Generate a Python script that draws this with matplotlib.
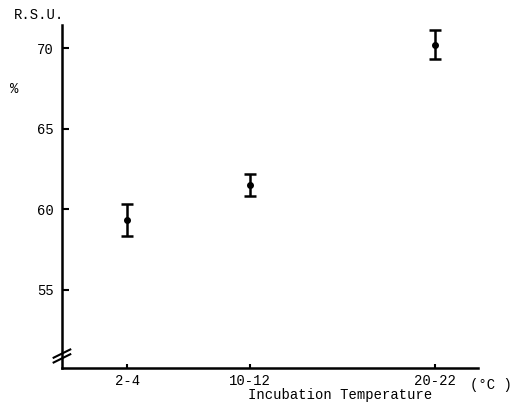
import matplotlib
matplotlib.use("Agg")
import matplotlib.pyplot as plt

categories = ["2-4", "10-12", "20-22"]
positions = [0, 1, 2.5]
means = [59.35, 61.5, 70.2]
errors = [1.0, 0.7, 0.9]
yticks = [55, 60, 65, 70]

plt.rcParams['font.family'] = ['Liberation Mono', 'DejaVu Sans Mono']

fig = plt.figure(figsize=(5.25, 4.05), dpi=100)
ax = fig.add_axes([0.118, 0.0914, 0.792, 0.8466])

ax.errorbar(positions, means, yerr=errors, fmt='o', color='black', ms=4,
            elinewidth=1.8, capsize=4, capthick=1.8)

ax.set_xlim(-0.53, 2.85)
ax.set_ylim(50.16, 71.43)
ax.set_xticks(positions)
ax.set_xticklabels(categories, fontsize=10)
ax.set_yticks(yticks)
ax.set_yticklabels([str(v) for v in yticks], fontsize=10)
ax.tick_params(axis='y', direction='in', length=5, width=1.5, pad=6)
ax.tick_params(axis='x', direction='in', length=3, width=1.5, pad=4)

for s in ['top', 'right']:
    ax.spines[s].set_visible(False)
for s in ['left', 'bottom']:
    ax.spines[s].set_linewidth(1.8)

# axis break marks
for dy in (0.028, 0.042):
    ax.plot([-0.02, 0.02], [dy - 0.012, dy + 0.012], transform=ax.transAxes,
            color='black', lw=1.5, clip_on=False)

fig.text(0.027, 0.963, "R.S.U.", fontsize=10, ha='left', va='center')
fig.text(0.02, 0.78, "%", fontsize=10, ha='left', va='center')
fig.text(0.648, 0.025, "Incubation Temperature", fontsize=10, ha='center', va='center')
fig.text(0.935, 0.05, "(°C )", fontsize=10, ha='center', va='center')

fig.savefig("out.png", dpi=100)
